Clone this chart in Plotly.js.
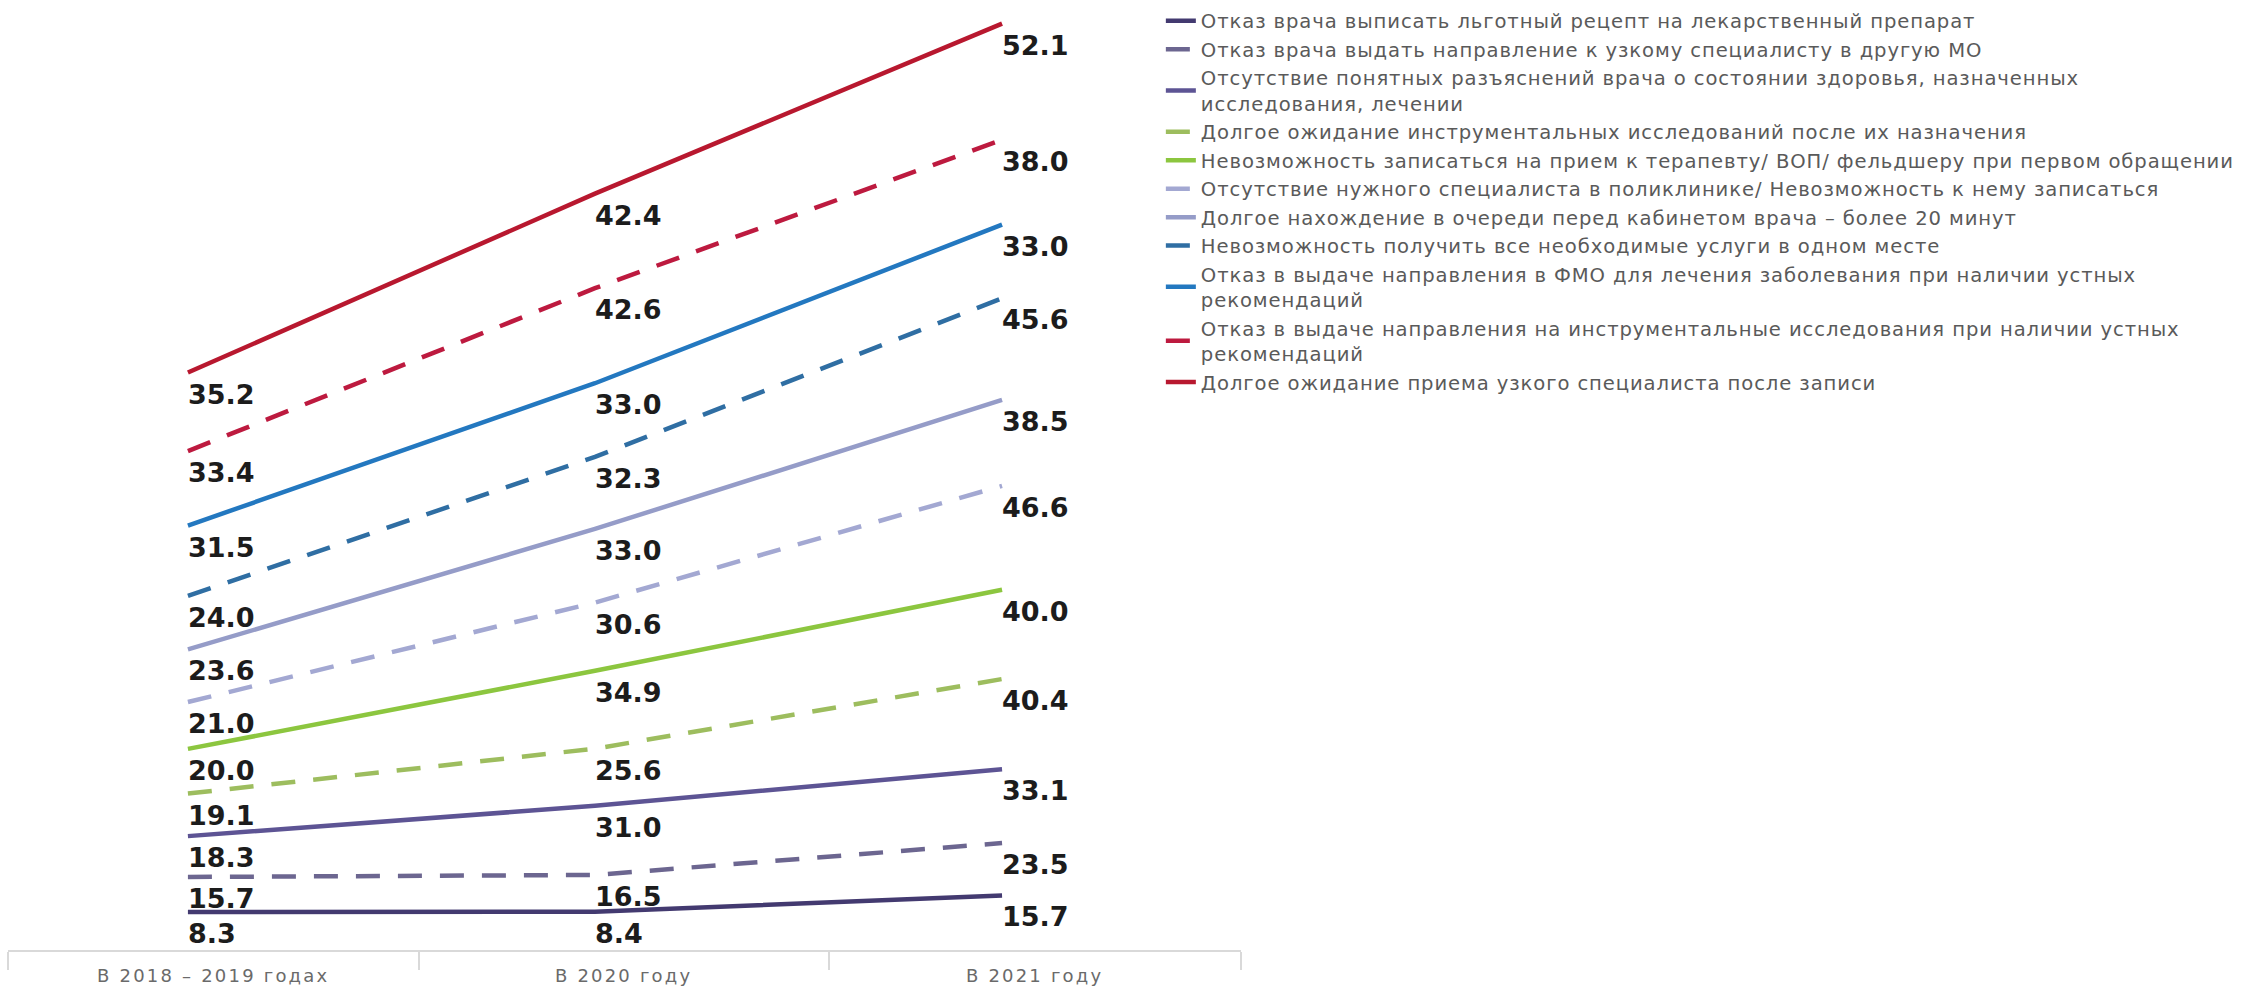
<!DOCTYPE html>
<html>
<head>
<meta charset="utf-8">
<script src="https://cdn.plot.ly/plotly-3.0.1.min.js"></script>
<style>
  html, body { margin: 0; padding: 0; background: #ffffff; }
  #chart { width: 2254px; height: 989px; }
  .legendtext { letter-spacing: 0.9px; }
  /* period labels under the axis */
  g.annotation[data-index="0"] text,
  g.annotation[data-index="1"] text,
  g.annotation[data-index="2"] text { letter-spacing: 2.2px; }
</style>
</head>
<body>
<div id="chart"></div>
<script>
// Categories (periods)
const cats = ['В 2018 – 2019 годах', 'В 2020 году', 'В 2021 году'];

// Series names, bottom of the stack first
const names = [
  'Отказ врача выписать льготный рецепт на лекарственный препарат',
  'Отказ врача выдать направление к узкому специалисту в другую МО',
  'Отсутствие понятных разъяснений врача о состоянии здоровья, назначенных<br>исследования, лечении',
  'Долгое ожидание инструментальных исследований после их назначения',
  'Невозможность записаться на прием к терапевту/ ВОП/ фельдшеру при первом обращении',
  'Отсутствие нужного специалиста в поликлинике/ Невозможность к нему записаться',
  'Долгое нахождение в очереди перед кабинетом врача – более 20 минут',
  'Невозможность получить все необходимые услуги в одном месте',
  'Отказ в выдаче направления в ФМО для лечения заболевания при наличии устных<br>рекомендаций',
  'Отказ в выдаче направления на инструментальные исследования при наличии устных<br>рекомендаций',
  'Долгое ожидание приема узкого специалиста после записи'
];

// Values per period, in the same order as the names
const refusalPrescription   = [8.3, 8.4, 15.7];
const refusalReferralMO     = [15.7, 16.5, 23.5];
const noExplanations        = [18.3, 31.0, 33.1];
const longWaitDiagnostics   = [19.1, 25.6, 40.4];
const cannotBookTherapist   = [20.0, 34.9, 40.0];
const noSpecialist          = [21.0, 30.6, 46.6];
const longQueue             = [23.6, 33.0, 38.5];
const notAllInOnePlace      = [24.0, 32.3, 45.6];
const refusalFMO            = [31.5, 33.0, 33.0];
const refusalDiagnostics    = [33.4, 42.6, 38.0];
const longWaitSpecialist    = [35.2, 42.4, 52.1];

const seriesValues = [
  refusalPrescription, refusalReferralMO, noExplanations, longWaitDiagnostics,
  cannotBookTherapist, noSpecialist, longQueue, notAllInOnePlace,
  refusalFMO, refusalDiagnostics, longWaitSpecialist
];

const colors = [
  '#433a70', '#6c6690', '#5d5494', '#9dbd5e', '#8cc63f', '#a3a8d2',
  '#959cc8', '#2f6ea3', '#2378c0', '#bd1a3f', '#b8182f'
];
const dashes = [
  'solid', '24px,18px', 'solid', '24px,18px', 'solid', '24px,18px',
  'solid', '24px,18px', 'solid', '24px,18px', 'solid'
];

// Category bands of the horizontal axis (edges), lines sit at 0, 1, 2
const bandEdges = [-0.442, 0.5675, 1.5747, 2.587];

const xIdx = cats.map((c, i) => i);

const traces = seriesValues.map((vals, k) => ({
  type: 'scatter',
  mode: 'lines',
  x: xIdx,
  y: vals,
  name: names[k],
  stackgroup: 'all',
  fill: 'none',
  line: { color: colors[k], width: 4.5, dash: dashes[k] },
  hoverinfo: 'skip'
}));

const annotations = [];

// Category labels centred in their bands (first three annotations)
cats.forEach((c, i) => {
  annotations.push({
    x: (bandEdges[i] + bandEdges[i + 1]) / 2, y: 0,
    xref: 'x', yref: 'paper',
    text: c, showarrow: false,
    xanchor: 'center', yanchor: 'top', yshift: -13,
    font: { family: 'DejaVu Sans', size: 18, color: '#6a6a6a' }
  });
});

// Value labels under each stacked point
const running = cats.map(() => 0);
seriesValues.forEach((vals) => {
  vals.forEach((v, i) => {
    running[i] += v;
    annotations.push({
      x: xIdx[i], y: running[i], xref: 'x', yref: 'y',
      text: v.toFixed(1),
      showarrow: false,
      xanchor: 'left', yanchor: 'top',
      xshift: -2, yshift: -4,
      font: { family: 'DejaVu Sans', size: 27, color: '#1c1c1c', weight: 'bold' }
    });
  });
});

const layout = {
  width: 2254,
  height: 989,
  margin: { l: 8, r: 1013, t: 10, b: 39, autoexpand: false },
  paper_bgcolor: '#ffffff',
  plot_bgcolor: '#ffffff',
  showlegend: true,
  legend: {
    x: 0.935, xanchor: 'left',
    y: 1.009, yanchor: 'top',
    traceorder: 'normal',
    font: { family: 'DejaVu Sans', size: 19.6, color: '#5a5a5a' },
    bgcolor: 'rgba(0,0,0,0)',
    itemwidth: 30,
    valign: 'middle'
  },
  xaxis: {
    range: [bandEdges[0], bandEdges[bandEdges.length - 1]],
    tickmode: 'array',
    tickvals: bandEdges,
    showticklabels: false,
    ticks: 'outside', ticklen: 18, tickwidth: 1.5, tickcolor: '#d9d9d9',
    showline: true, linecolor: '#d9d9d9', linewidth: 1.5,
    showgrid: false, zeroline: false, fixedrange: true
  },
  yaxis: {
    range: [-8.74, 412.6],
    visible: false,
    showgrid: false, zeroline: false, fixedrange: true
  },
  annotations: annotations
};

Plotly.newPlot('chart', traces, layout, { displayModeBar: false, staticPlot: true });
</script>
</body>
</html>
